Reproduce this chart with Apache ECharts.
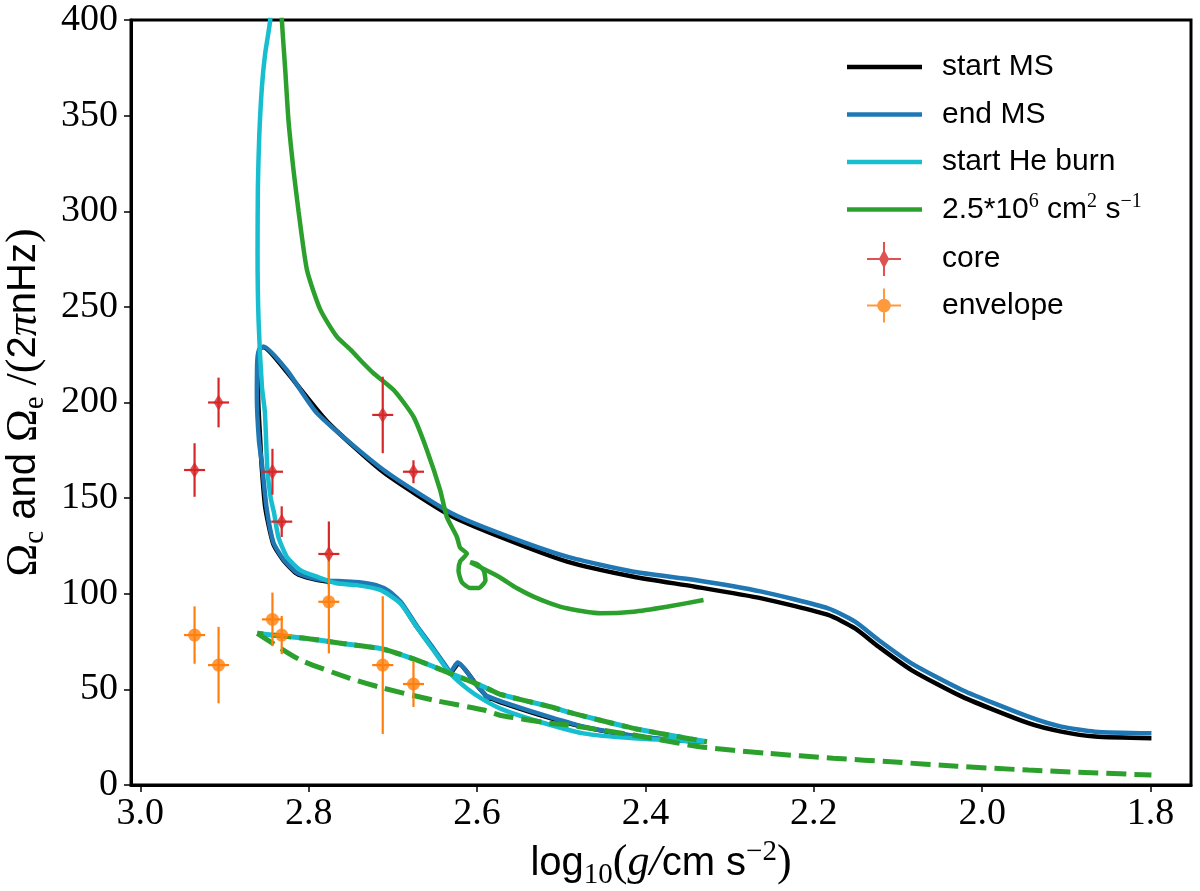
<!DOCTYPE html>
<html><head><meta charset="utf-8">
<script src="https://cdn.jsdelivr.net/npm/echarts@6/dist/echarts.min.js"></script>
<style>html,body{margin:0;padding:0;background:#fff}#c{width:1200px;height:891px}</style>
</head><body><div id="c"></div>
<script>
// ---- tick labels ----
const xTicks = [1.8, 2.0, 2.2, 2.4, 2.6, 2.8, 3.0];
const yTicks = [0, 50, 100, 150, 200, 250, 300, 350, 400];

// ---- model curves: [log g, Omega] ----
const startMS = [[1.799,24.4],[1.866,25.3],[1.906,27.9],[1.945,32.3],[2.024,46.2],[2.084,60.1],[2.123,72.3],[2.151,81.9],[2.183,88.9],[2.262,97.6],[2.341,103.7],[2.414,108.9],[2.493,116.8],[2.573,129.8],[2.632,141],[2.711,163.5],[2.778,190],[2.826,216],[2.845,226],[2.854,229],[2.858,228],[2.860,222],[2.860,203],[2.8575,180],[2.856,168],[2.8515,145],[2.842,126],[2.83,117.5],[2.814,110.5],[2.798,108],[2.78,106.5],[2.76,106],[2.74,105.5],[2.72,104],[2.705,101],[2.69,95],[2.672,83],[2.652,71],[2.636,61],[2.632,58.4],[2.622,63.5],[2.600,52],[2.584,44],[2.590,46.5],[2.57,43],[2.513,35],[2.47,30],[2.414,25.5],[2.37,23.5],[2.33,22.5]];
const endMS = [[1.799,27],[1.866,27.9],[1.906,30.5],[1.945,35.7],[2.024,49.7],[2.084,63.6],[2.123,75.8],[2.151,85.4],[2.183,92.4],[2.262,101.1],[2.341,107.2],[2.414,111.5],[2.493,119.4],[2.573,131.6],[2.632,142.5],[2.711,164.7],[2.79,194.4],[2.826,217],[2.8536,229.2],[2.8585,228],[2.861,222],[2.8615,203],[2.859,180],[2.8555,168],[2.85,145],[2.842,127],[2.83,118],[2.814,111],[2.798,108.5],[2.78,107],[2.76,106.5],[2.74,106],[2.72,104.5],[2.705,101.5],[2.69,95.5],[2.672,83.5],[2.652,71.5],[2.636,61.5],[2.632,59],[2.623,64],[2.601,52.5],[2.585,44.5],[2.591,47],[2.57,43.5],[2.513,35.5],[2.47,30.2],[2.414,25.8],[2.37,23.7],[2.33,22.7]];
const startHe = [[2.843,430],[2.8457,400],[2.8516,382.6],[2.8555,365.1],[2.8587,339],[2.8603,312.8],[2.8607,278],[2.8595,243.1],[2.8555,208.3],[2.852,195],[2.849,165],[2.845,150],[2.841,142],[2.836,129.8],[2.826,119.4],[2.81,112.4],[2.79,108.9],[2.767,105.5],[2.743,104.5],[2.715,102],[2.691,95],[2.672,82.8],[2.652,70.6],[2.632,58.4],[2.612,50.5],[2.592,44.5],[2.57,39.5],[2.533,34],[2.4737,27],[2.414,24.4],[2.33,22.6]];
const diff25 = [[2.834,430],[2.8318,400],[2.8278,373.9],[2.824,347.7],[2.818,321.6],[2.812,300],[2.802,269.3],[2.786,248.4],[2.7665,234.4],[2.750,227.5],[2.735,220.5],[2.723,215.3],[2.699,206.5],[2.6755,192.6],[2.6596,175.2],[2.6438,154.2],[2.636,140.3],[2.624,129.8],[2.62,124],[2.612,121],[2.62,117],[2.622,112],[2.618,106],[2.608,103],[2.598,103],[2.590,107],[2.592,112],[2.600,115.5],[2.608,116.5],[2.59,112.5],[2.5726,108.5],[2.553,103],[2.533,98.5],[2.513,95],[2.4934,92.4],[2.4538,89.8],[2.4143,90.6],[2.3747,93.2],[2.331,96.7]];

// ---- envelope (dashed) curves ----
const envUpper = [[2.861,79.3],[2.844,78.4],[2.80,76.5],[2.76,74],[2.711,71],[2.672,65.4],[2.632,58.4],[2.592,51.4],[2.573,47.5],[2.513,40.9],[2.493,38.3],[2.414,29.6],[2.327,22.6]];
const envLower = [[2.861,79.3],[2.81,65.4],[2.751,55.8],[2.711,50.6],[2.652,44.4],[2.592,39.2],[2.573,36.5],[2.513,32.3],[2.493,31.4],[2.414,26.1],[2.335,20],[2.256,16.6],[2.177,14],[2.104,12],[2.03,9.8],[1.945,7.8],[1.87,6.4],[1.799,5.2]];

// ---- observations ----
const coreX = [2.907, 2.9355, 2.843, 2.832, 2.776, 2.712, 2.6755];
const coreY = [200, 164.7, 163.8, 137.7, 120.8, 193.5, 163.8];
const coreYerr = [13, 14, 12, 8, 17, 20, 6];
const envX = [2.9355, 2.907, 2.843, 2.832, 2.776, 2.712, 2.6755];
const envY = [78.4, 62.7, 86.6, 78.4, 95.8, 62.7, 52.8];
const envYerr = [15, 20, 14, 10, 27, 36, 12];
const xErr = 0.0125;

const C = {black:'#000000', blue:'#1f77b4', cyan:'#17becf', green:'#2ca02c', red:'#d62728', orange:'#ff7f0e'};
const serif = 'Liberation Serif';
const sans = 'Liberation Sans';

function solid(name, data, color){
  return {name, type:'line', data, color, showSymbol:false, symbol:'none', silent:true, smooth:0.2,
    lineStyle:{width:4.5, color}, animation:false, clip:true};
}
function dashed(name, data, color, offset){
  return {name, type:'line', data, color, showSymbol:false, symbol:'none', silent:true, smooth:0.2,
    lineStyle:{width:5, color, type:[20,8], dashOffset:offset||0}, animation:false, clip:true};
}
function errRender(color){
  return function(params, api){
    const x=api.value(0), y=api.value(1), ye=api.value(2), xe=api.value(3);
    const h1=api.coord([x-xe,y]), h2=api.coord([x+xe,y]);
    const v1=api.coord([x,y-ye]), v2=api.coord([x,y+ye]);
    const st={stroke:color, lineWidth:2.2};
    return {type:'group', children:[
      {type:'line', shape:{x1:h1[0],y1:h1[1],x2:h2[0],y2:h2[1]}, style:st},
      {type:'line', shape:{x1:v1[0],y1:v1[1],x2:v2[0],y2:v2[1]}, style:st}]};
  };
}
const coreData = coreX.map((x,i)=>[x, coreY[i], coreYerr[i], xErr]);
const envData = envX.map((x,i)=>[x, envY[i], envYerr[i], xErr]);

const coreIcon = 'path://M47,0 L53,0 L53,100 L47,100 Z M0,47 L100,47 L100,53 L0,53 Z M50,22 L65,50 L50,78 L35,50 Z';
const envIcon = 'path://M47,0 L53,0 L53,100 L47,100 Z M0,47 L100,47 L100,53 L0,53 Z M30,50 A20,20 0 1,1 70,50 A20,20 0 1,1 30,50 Z';

const nameRich = {
  r:{fontFamily:serif, fontSize:44, color:'#000', lineHeight:52},
  i:{fontFamily:serif, fontStyle:'italic', fontSize:44, color:'#000', lineHeight:52},
  s:{fontFamily:sans, fontSize:40, color:'#000', lineHeight:52},
  sub:{fontFamily:serif, fontSize:29, color:'#000', verticalAlign:'bottom', lineHeight:28},
  sup:{fontFamily:serif, fontSize:29, color:'#000', verticalAlign:'top', lineHeight:28}
};

const chart = echarts.init(document.getElementById('c'), null, {renderer:'canvas'});
chart.setOption({
  animation:false,
  backgroundColor:'#ffffff',
  grid:{left:131, right:9, top:20, bottom:106, containLabel:false, outerBoundsMode:'none',
    show:true, borderColor:'#000', borderWidth:3, backgroundColor:'transparent'},
  xAxis:{type:'value', inverse:true, min:1.752, max:3.011,
    axisLine:{show:true, onZero:false, lineStyle:{color:'#000', width:3}},
    axisTick:{show:true, customValues:xTicks, length:7, lineStyle:{color:'#000', width:1.5}},
    axisLabel:{customValues:xTicks, formatter:v=>Number(v).toFixed(1), fontFamily:serif, fontSize:38, color:'#000', margin:10},
    splitLine:{show:false},
    name:'{s|log}{sub|10}{r|(}{i|g/}{s|cm s}{sup|−2}{r|)}',
    nameLocation:'middle', nameGap:50,
    nameTextStyle:{color:'#000', fontFamily:serif, fontSize:44, lineHeight:52, rich:nameRich}
  },
  yAxis:{type:'value', min:0, max:400, interval:50,
    axisLine:{show:true, onZero:false, lineStyle:{color:'#000', width:3}},
    axisTick:{show:true, length:7, lineStyle:{color:'#000', width:1.5}},
    axisLabel:{fontFamily:serif, fontSize:38, color:'#000', margin:13},
    splitLine:{show:false},
    name:'{r|Ω}{sub|c}{s| and }{r|Ω}{sub|e}{r| /(}{s|2}{i|π}{s|nHz}{r|)}',
    nameLocation:'middle', nameRotate:90, nameGap:80,
    nameTextStyle:{color:'#000', fontFamily:serif, fontSize:44, lineHeight:52, rich:nameRich}
  },
  legend:[
    {orient:'vertical', left:842, top:44, itemWidth:75, itemHeight:4.5, itemGap:11.5, selectedMode:false,
     data:[{name:'start MS', icon:'rect'},{name:'end MS', icon:'rect'},{name:'start He burn', icon:'rect'},{name:'2.5e6', icon:'rect'}],
     formatter:function(n){ return n==='2.5e6' ? '2.5*10{sup|6} cm{sup|2} s{sup|−1}' : n; },
     textStyle:{fontFamily:sans, fontSize:30, color:'#000', lineHeight:36, padding:[0,0,0,15],
       rich:{sup:{fontFamily:serif, fontSize:20, color:'#000', verticalAlign:'top', lineHeight:20}}}},
    {orient:'vertical', left:862, top:236, itemWidth:34, itemHeight:34, itemGap:10.6, selectedMode:false,
     data:[{name:'core', icon:coreIcon, itemStyle:{color:C.red}},{name:'envelope', icon:envIcon, itemStyle:{color:C.orange}}],
     textStyle:{fontFamily:sans, fontSize:30, color:'#000', lineHeight:36, padding:[0,0,0,36]}}
  ],
  series:[
    solid('start MS', startMS, C.black),
    solid('end MS', endMS, C.blue),
    solid('start He burn', startHe, C.cyan),
    dashed('start He burn env', envUpper, C.cyan, 0),
    solid('2.5e6', diff25, C.green),
    dashed('2.5e6 env', envUpper, C.green, 14),
    dashed('2.5e6 env lower', envLower, C.green, 0),
    {name:'core err', type:'custom', renderItem:errRender(C.red), data:coreData, encode:{x:0,y:1}, silent:true, z:5},
    {name:'envelope err', type:'custom', renderItem:errRender(C.orange), data:envData, encode:{x:0,y:1}, silent:true, z:5},
    {name:'core', type:'scatter', data:coreX.map((x,i)=>[x,coreY[i]]), color:C.red, symbol:'diamond', symbolSize:[10,16], itemStyle:{color:C.red}, silent:true, z:6},
    {name:'envelope', type:'scatter', data:envX.map((x,i)=>[x,envY[i]]), color:C.orange, symbol:'circle', symbolSize:13, itemStyle:{color:C.orange}, silent:true, z:6}
  ]
});
</script>
</body></html>
